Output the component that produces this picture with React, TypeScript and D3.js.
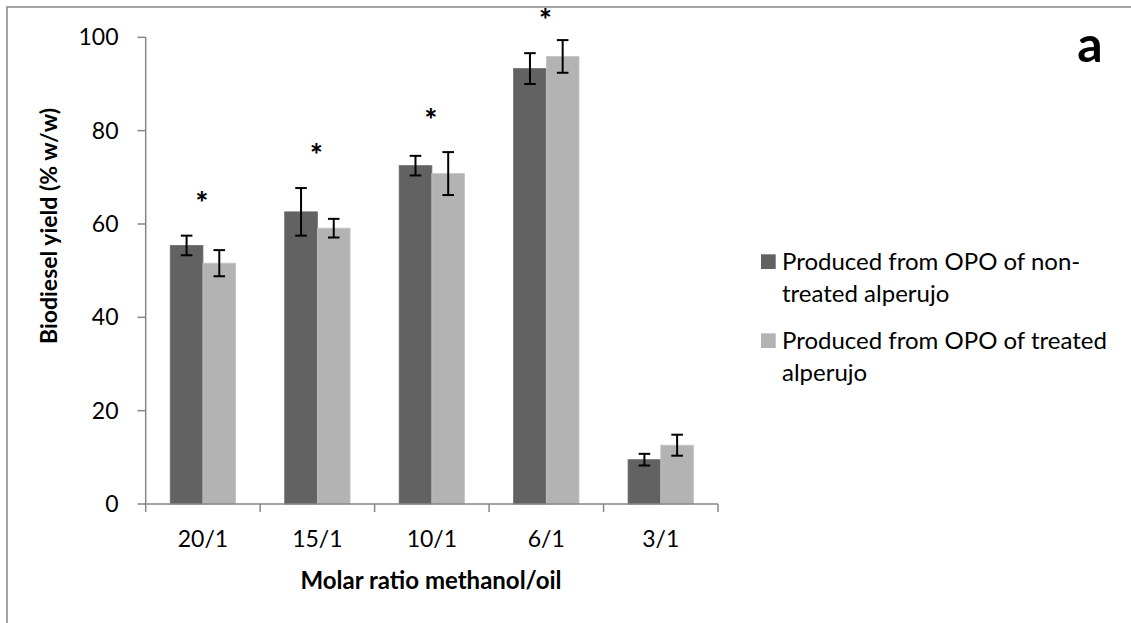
import React from "react";
import * as d3 from "d3";

const categories = ["20/1", "15/1", "10/1", "6/1", "3/1"];
const nonTreated = [55.4, 62.6, 72.5, 93.3, 9.5];
const nonTreatedErr = [2.1, 5.1, 2.1, 3.3, 1.25];
const treated = [51.6, 59.1, 70.8, 95.9, 12.6];
const treatedErr = [2.8, 2.0, 4.6, 3.5, 2.25];
const starLevels: (number | null)[] = [65.3, 75.6, 83.2, 104.6, null];
const yTicks = [0, 20, 40, 60, 80, 100];
const seriesNames = [
  ["Produced from OPO of non-", "treated alperujo"],
  ["Produced from OPO of treated", "alperujo"],
];

const W = 1131;
const H = 623;
const FONT = "Lato, 'Open Sans', sans-serif";
const DARK = "#626262";
const LIGHT = "#b3b3b3";
const AXIS = "#868686";

export default function App() {
  const y = d3.scaleLinear().domain([0, 100]).range([504, 37.3]);
  const x = d3.scaleBand<string>().domain(categories).range([145.7, 718]).padding(0);
  const bw = x.bandwidth() / 3.5;
  const series = [
    { vals: nonTreated, err: nonTreatedErr, color: DARK, off: 0.75 * bw },
    { vals: treated, err: treatedErr, color: LIGHT, off: 1.75 * bw },
  ];
  const cap = 5.8;
  return (
    <svg
      width={W}
      height={H}
      style={{ position: "fixed", left: 0, top: 0, background: "#fff" }}
    >
      <rect x={0} y={0} width={W} height={H} fill="#fff" />
      <rect x={7} y={7} width={W + 20} height={H + 20} fill="none" stroke={AXIS} strokeWidth={1.5} />
      {/* bars */}
      {series.map((s, si) =>
        categories.map((c, i) => {
          const bx = (x(c) as number) + s.off;
          return (
            <rect
              key={`b${si}-${i}`}
              x={bx}
              y={y(s.vals[i])}
              width={bw}
              height={y(0) - y(s.vals[i])}
              fill={s.color}
              stroke={si === 0 ? "#6e6e6e" : "#c4c4c4"}
              strokeWidth={0.8}
            />
          );
        })
      )}
      {/* error bars */}
      {series.map((s, si) =>
        categories.map((c, i) => {
          const cx = (x(c) as number) + s.off + bw / 2;
          const y1 = y(s.vals[i] + s.err[i]);
          const y2 = y(s.vals[i] - s.err[i]);
          return (
            <g key={`e${si}-${i}`} stroke="#000" strokeWidth={2}>
              <line x1={cx} x2={cx} y1={y1} y2={y2} />
              <line x1={cx - cap} x2={cx + cap} y1={y1} y2={y1} />
              <line x1={cx - cap} x2={cx + cap} y1={y2} y2={y2} />
            </g>
          );
        })
      )}
      {/* asterisks */}
      {categories.map((c, i) =>
        starLevels[i] === null ? null : (
          <text
            key={`s${i}`}
            x={(x(c) as number) + x.bandwidth() / 2 - 1}
            y={y(starLevels[i] as number) + 15}
            textAnchor="middle"
            fontFamily={FONT}
            fontWeight="900"
            fontSize={30}
            fill="#000"
          >
            *
          </text>
        )
      )}
      {/* y axis */}
      <line x1={145.7} x2={145.7} y1={y(100)} y2={y(0)} stroke={AXIS} strokeWidth={1.5} />
      {yTicks.map((t) => (
        <g key={`yt${t}`}>
          <line x1={137.5} x2={145.7} y1={y(t)} y2={y(t)} stroke={AXIS} strokeWidth={1.5} />
          <text
            x={118.5}
            y={y(t)}
            dy="0.35em"
            textAnchor="end"
            fontFamily={FONT}
            fontSize={23}
            fill="#000"
          >
            {t}
          </text>
        </g>
      ))}
      {/* x axis */}
      <line x1={145.7} x2={718} y1={y(0)} y2={y(0)} stroke={AXIS} strokeWidth={1.5} />
      {[...categories.map((c) => x(c) as number), 718].map((tx, i) => (
        <line key={`xt${i}`} x1={tx} x2={tx} y1={y(0)} y2={y(0) + 8} stroke={AXIS} strokeWidth={1.5} />
      ))}
      {categories.map((c) => (
        <text
          key={`xl${c}`}
          x={(x(c) as number) + x.bandwidth() / 2}
          y={539}
          dy="0.35em"
          textAnchor="middle"
          fontFamily={FONT}
          fontSize={23}
          fill="#000"
        >
          {c}
        </text>
      ))}
      <text
        x={431}
        y={581}
        dy="0.35em"
        textAnchor="middle"
        fontFamily={FONT}
        fontWeight="bold"
        fontSize={24}
        fill="#000"
      >
        Molar ratio methanol/oil
      </text>
      <text
        transform={`translate(49,226) rotate(-90)`}
        dy="0.35em"
        textAnchor="middle"
        fontFamily={FONT}
        fontWeight="bold"
        fontSize={23}
        fill="#000"
      >
        Biodiesel yield (% w/w)
      </text>
      {/* panel letter */}
      <text x={1090} y={44} dy="0.35em" textAnchor="middle" fontFamily={FONT} fontWeight="bold" fontSize={50} fill="#000">
        a
      </text>
      {/* legend */}
      {seriesNames.map((lines, i) => {
        const top = 254.3 + i * 79;
        return (
          <g key={`lg${i}`}>
            <rect x={761} y={top} width={14.7} height={14.7} fill={i === 0 ? DARK : LIGHT} />
            {lines.map((ln, j) => (
              <text
                key={j}
                x={782}
                y={top + 7.4 + j * 32.3}
                dy="0.35em"
                fontFamily={FONT}
                fontSize={24}
                fill="#000"
              >
                {ln}
              </text>
            ))}
          </g>
        );
      })}
    </svg>
  );
}
